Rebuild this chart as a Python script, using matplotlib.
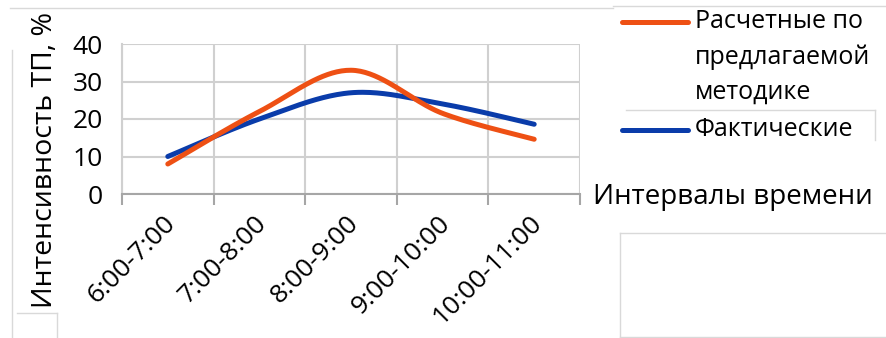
import matplotlib
matplotlib.use("Agg")
import matplotlib.pyplot as plt
from matplotlib.lines import Line2D
from matplotlib.transforms import ScaledTranslation
import numpy as np

# Интенсивность ТП по интервалам времени, %
intervals = ["6:00-7:00", "7:00-8:00", "8:00-9:00", "9:00-10:00", "10:00-11:00"]
calc = [8, 22, 33, 21.5, 14.6]
fact = [10, 20, 27, 24, 18.6]

plt.rcParams["font.family"] = ["Open Sans", "DejaVu Sans"]

W, H = 887, 338


def smooth(xs, ys, n=40):
    # сглаженная линия через точки (кривые Безье, как в Excel)
    p = np.column_stack([xs, ys]).astype(float)
    ext = np.vstack([p[0], p, p[-1]])
    out = []
    for i in range(len(p) - 1):
        p0, p1, p2, p3 = ext[i], ext[i + 1], ext[i + 2], ext[i + 3]
        c1 = p1 + (p2 - p0) / 6
        c2 = p2 - (p3 - p1) / 6
        t = np.linspace(0, 1, n)[:, None]
        seg = (1 - t) ** 3 * p1 + 3 * (1 - t) ** 2 * t * c1 + 3 * (1 - t) * t ** 2 * c2 + t ** 3 * p2
        out.append(seg if i == 0 else seg[1:])
    s = np.vstack(out)
    return s[:, 0], s[:, 1]


fig = plt.figure(figsize=(W / 100, H / 100), dpi=100)
ax = fig.add_axes([122 / W, 1 - 194 / H, (580 - 122) / W, 150 / H])

x = np.arange(len(intervals))
sx, sy = smooth(x, fact)
ax.plot(sx, sy, color="#0A3CAA", lw=3.6, solid_capstyle="round", zorder=3)
sx, sy = smooth(x, calc)
ax.plot(sx, sy, color="#EE5014", lw=3.6, solid_capstyle="round", zorder=4)

ax.set_xlim(-0.5, 4.5)
ax.set_ylim(0, 40)
ax.set_yticks([0, 10, 20, 30, 40])
ax.set_xticks(np.arange(-0.5, 5, 1))
ax.set_xticklabels([])
ax.set_xticks(x, minor=True)
ax.set_xticklabels(intervals, minor=True, rotation=45, ha="right", va="top",
                   rotation_mode="anchor", fontsize=19)
ax.tick_params(axis="x", which="minor", length=0, pad=12)
ax.tick_params(axis="x", which="major", length=8, width=1.5, color="#A6A6A6")
ax.tick_params(axis="y", length=0, labelsize=19, pad=14)
# подписи интервалов чуть левее
shift = ScaledTranslation(-5 / 100, 0, fig.dpi_scale_trans)
for lab in ax.get_xticklabels(minor=True):
    lab.set_transform(lab.get_transform() + shift)
ax.grid(True, which="major", color="#D0D0D0", lw=1.5)
for s in ["top", "right"]:
    ax.spines[s].set_visible(False)
ax.spines["left"].set_color("#D0D0D0")
ax.spines["left"].set_linewidth(1.5)
ax.spines["bottom"].set_color("#A6A6A6")
ax.spines["bottom"].set_linewidth(1.5)
ax.set_axisbelow(True)

fig.text(45 / W, 1 - 160 / H, "Интенсивность ТП, %", rotation=90,
         ha="center", va="center", fontsize=20.5)
fig.text(593 / W, 1 - 197 / H, "Интервалы времени", ha="left", va="center", fontsize=20)

# легенда
def px(xp, yp):
    return [v / W for v in xp], [1 - v / H for v in yp]

lx, ly = px([622, 688], [22, 22])
fig.add_artist(Line2D(lx, ly, color="#EE5014", lw=3.6, solid_capstyle="round"))
lx, ly = px([622, 688], [130, 130])
fig.add_artist(Line2D(lx, ly, color="#0A3CAA", lw=3.6, solid_capstyle="round"))
for txt, yp in [("Расчетные по", 22), ("предлагаемой", 57), ("методике", 92), ("Фактические", 130)]:
    fig.text(695 / W, 1 - yp / H, txt, ha="left", va="center", fontsize=18)

# тонкие рамки
for xs_, ys_ in [([10, 613], [8, 8]), ([613, 887], [6, 6]), ([12, 12], [50, 338]),
                 ([17, 57], [313, 313]), ([57, 57], [313, 338]),
                 ([626, 875], [110, 110]), ([875, 875], [110, 140]),
                 ([620, 887], [233, 233]), ([620, 620], [233, 337]), ([620, 887], [337, 337])]:
    lx, ly = px(xs_, ys_)
    fig.add_artist(Line2D(lx, ly, color="#D9D9D9", lw=1))

fig.savefig("out.png", dpi=100)
